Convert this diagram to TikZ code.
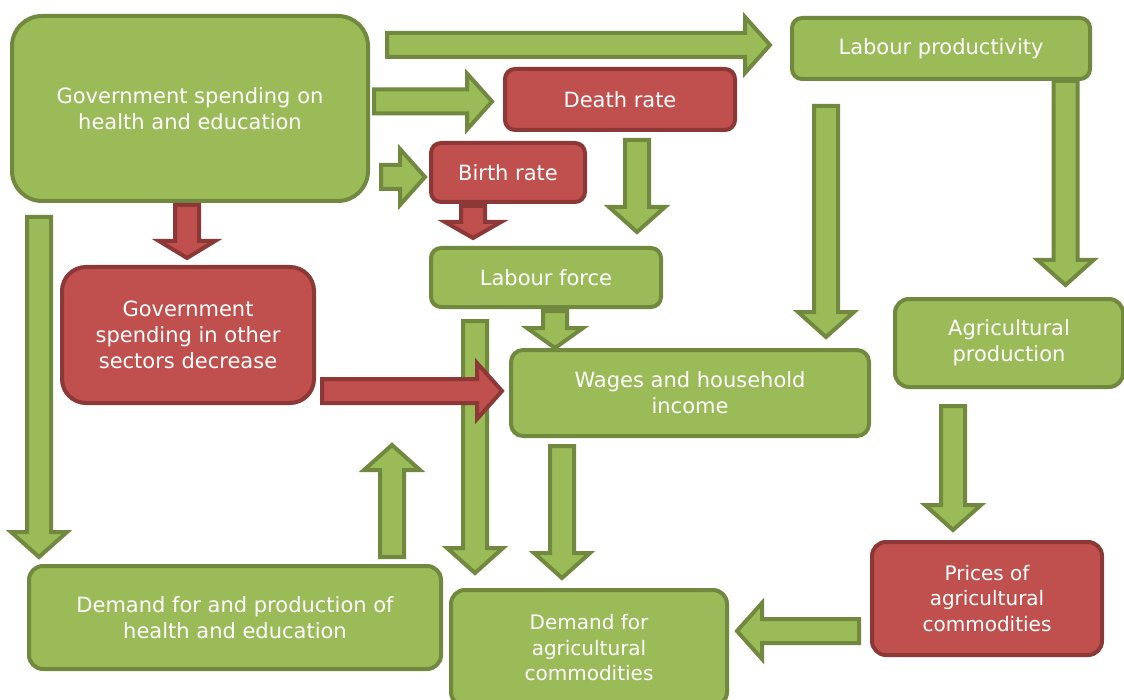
\documentclass[tikz,border=0pt]{standalone}
\usepackage{fontspec}
\setmainfont{DejaVu Sans}
\usetikzlibrary{calc}

\definecolor{gfill}{HTML}{9BBB59}
\definecolor{gline}{HTML}{71893F}
\definecolor{rfill}{HTML}{C0504D}
\definecolor{rline}{HTML}{8C3836}

\tikzset{
  box/.style={line width=2pt, text=white, align=center, inner sep=0pt,
    font=\fontsize{10.5}{13}\selectfont},
  gbox/.style={box, draw=gline, fill=gfill},
  rbox/.style={box, draw=rline, fill=rfill},
  % block arrow: shaft 12pt wide, head 28pt wide
  head len/.store in=\hlen, head len=12.5pt,
  fat/.style={line width=2pt, to path={
    ($(\tikztostart)!6pt!90:(\tikztotarget)$)
    -- ($(\tikztotarget)!\hlen!(\tikztostart)!6pt!90:(\tikztotarget)$)
    -- ($(\tikztotarget)!\hlen!(\tikztostart)!14pt!90:(\tikztotarget)$)
    -- ($(\tikztotarget)$)
    -- ($(\tikztotarget)!\hlen!(\tikztostart)!14pt!-90:(\tikztotarget)$)
    -- ($(\tikztotarget)!\hlen!(\tikztostart)!6pt!-90:(\tikztotarget)$)
    -- ($(\tikztostart)!6pt!-90:(\tikztotarget)$) -- cycle}},
  fatg/.style={fat, draw=gline, fill=gfill},
  fatr/.style={fat, draw=rline, fill=rfill},
}

\begin{document}
\begin{tikzpicture}[x=0.5pt,y=-0.5pt]
\useasboundingbox (0,0) rectangle (1124,700);

% boxes
\node[gbox, rounded corners=15pt, minimum width=178pt, minimum height=92.5pt] (gse) at (190,108.5) {Government spending on\\health and education};
\node[gbox, rounded corners=5pt, minimum width=149pt, minimum height=30.5pt] (lp) at (941,48.5) {Labour productivity};
\node[rbox, rounded corners=5pt, minimum width=115pt, minimum height=30.5pt] (dr) at (620,99.5) {Death rate};
\node[rbox, rounded corners=5pt, minimum width=77pt, minimum height=29.5pt] (br) at (508,172.5) {Birth rate};
\node[gbox, rounded corners=5pt, minimum width=115pt, minimum height=29.5pt] (lf) at (546,277.5) {Labour force};
\node[rbox, rounded corners=12pt, minimum width=126pt, minimum height=68pt] (gso) at (188,335) {Government\\spending in other\\sectors decrease};
\node[gbox, rounded corners=6pt, minimum width=179pt, minimum height=43pt] (wh) at (690,393) {Wages and household\\income};
\node[gbox, rounded corners=7pt, minimum width=114pt, minimum height=44pt] (ap) at (1009,343) {Agricultural\\production};
\node[gbox, rounded corners=7pt, minimum width=206pt, minimum height=51.5pt] (dhe) at (235,617.5) {Demand for and production of\\health and education};
\node[gbox, rounded corners=7pt, minimum width=138pt, minimum height=58pt, font=\fontsize{10}{12.75}\selectfont] (dac) at (589,648) {Demand for\\agricultural\\commodities};
\node[rbox, rounded corners=7pt, minimum width=115pt, minimum height=56.5pt, font=\fontsize{10}{12.75}\selectfont] (pac) at (987,598.5) {Prices of\\agricultural\\commodities};

\coordinate (fb) at (392,445);

% arrows
\draw[fatg] ([shift={(17,-63.5)}]gse.east) to ([shift={(-20,-3.5)}]lp.west);
\draw[fatg] ([shift={(4,-7)}]gse.east) to ([shift={(-11,2)}]dr.west);
\draw[fatg] ([shift={(11,68.5)}]gse.east) to ([shift={(-4,4.5)}]br.west);
\draw[fatr, head len=8pt] ([shift={(-35,2)}]br.south) to ([shift={(-73,-8)}]lf.north);
\draw[fatg] ([shift={(17,8)}]dr.south) to ([shift={(91,-14)}]lf.north);
\draw[fatr, head len=8.5pt] ([shift={(-3,2)}]gse.south) to ([shift={(-1,-7)}]gso.north);
\draw[fatg] ([shift={(-151,14)}]gse.south) to ([shift={(-196,-7)}]dhe.north);
\draw[fatg, head len=10pt] ([shift={(9,2)}]lf.south) to ([shift={(-135,0)}]wh.north);
\draw[fatg] ([shift={(-71,12)}]lf.south) to ([shift={(-114,-15)}]dac.north);
\draw[fatr] ([shift={(6,56)}]gso.east) to ([shift={(-7,-2)}]wh.west);
\draw[fatg] ([shift={(157,-7)}]dhe.north) to (fb);
\draw[fatg] ([shift={(-128,8)}]wh.south) to ([shift={(-27,-10)}]dac.north);
\draw[fatg] ([shift={(-115,25)}]lp.south) to ([shift={(136,-11)}]wh.north);
\draw[fatg] ([shift={(124.5,0)}]lp.south) to ([shift={(56.5,-12)}]ap.north);
\draw[fatg] ([shift={(-56,17)}]ap.south) to ([shift={(-34,-10)}]pac.north);
\draw[fatg] ([shift={(-11,32.5)}]pac.west) to ([shift={(8,-17)}]dac.east);
\end{tikzpicture}
\end{document}
